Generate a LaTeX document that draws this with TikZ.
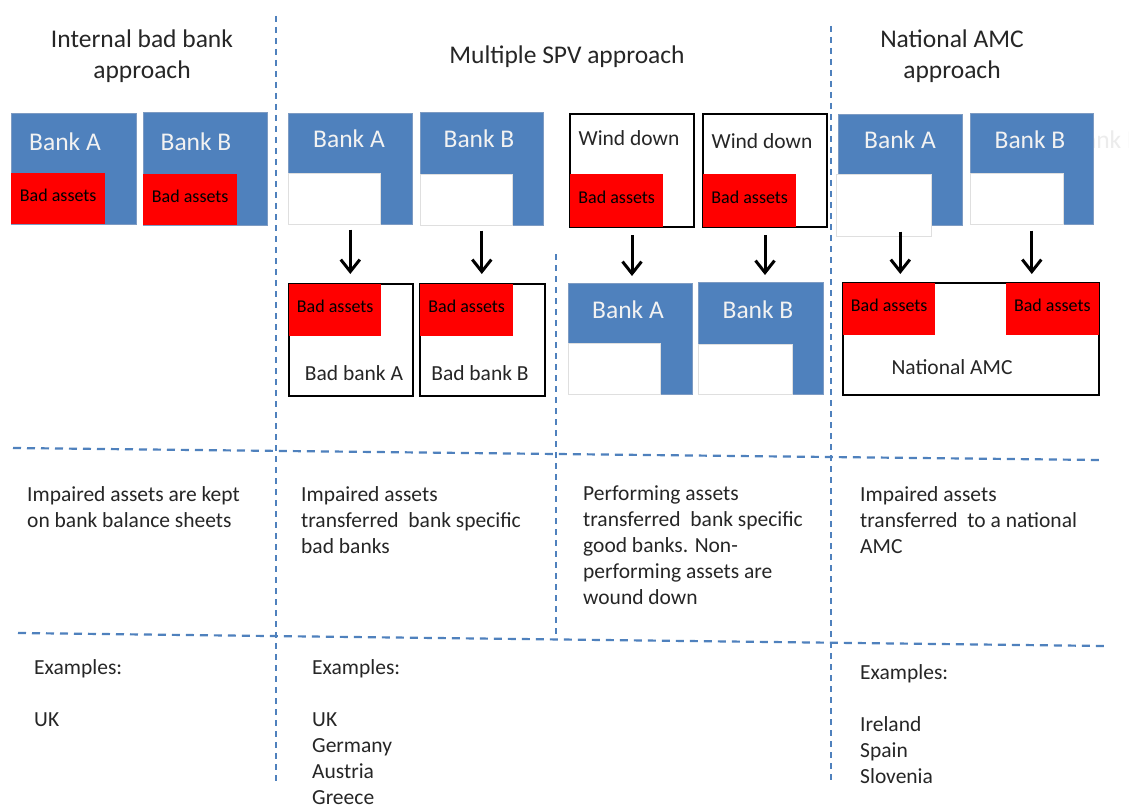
\documentclass[tikz,border=0pt]{standalone}
\usepackage{fontspec}
\setmainfont{Carlito}
\usetikzlibrary{arrows.meta}

\begin{document}
\begin{tikzpicture}[x=1pt,y=-1pt,
  bankbox/.style={draw=blueEdge,line width=0.6pt,fill=bankBlue,inner sep=0pt,anchor=north west},
  holdbox/.style={draw=black,line width=2pt,fill=white,inner sep=0pt,anchor=north west},
  badpatch/.style={fill=badRed,inner sep=0pt,text=black,text depth=7pt,font=\fontsize{18}{21}\selectfont},
  gappatch/.style={fill=white,draw=gray!25,line width=0.5pt,inner sep=0pt},
  banklabel/.style={text=white!95!black,anchor=base,inner sep=0pt,font=\fontsize{25.5}{30}\selectfont},
  boxlabel/.style={text=textGray,anchor=base,inner sep=0pt,font=\fontsize{21.5}{26}\selectfont},
  heading/.style={text=textGray,align=center,anchor=north,inner sep=0pt,font=\fontsize{25.5}{31}\selectfont},
  note/.style={text=textGray,align=left,anchor=north west,inner sep=0pt,font=\fontsize{21.5}{26}\selectfont},
  sepline/.style={draw=sepBlue,line width=2.2pt,dash pattern=on 8pt off 6pt},
  colline/.style={draw=sepBlue,line width=1.8pt,dash pattern=on 6pt off 5pt},
  flow/.style={draw=black,line width=3pt,-{Straight Barb[length=12pt,width=19pt]}}
]
\definecolor{bankBlue}{RGB}{79,129,189}
\definecolor{blueEdge}{RGB}{125,155,195}
\definecolor{badRed}{RGB}{255,0,0}
\definecolor{sepBlue}{RGB}{79,129,189}
\definecolor{textGray}{RGB}{38,38,38}
\path[use as bounding box,fill=white] (0,0) rectangle (1129,805);

% separators
\coordinate (topW) at (13,448);
\coordinate (topE) at (1100,460);
\coordinate (lowW) at (18,633);
\coordinate (lowE) at (1105,646);
\draw[sepline] (topW) -- (topE);
\draw[sepline] (lowW) -- (lowE);
\draw[colline] (276,16) -- (276,781);
\draw[colline] (556,254) -- (556,638);
\draw[colline] (831,26) -- (831,781);

% headings
\node[heading] (headInt) at (142,30) {Internal bad bank\\approach};
\node[heading,anchor=base] (headSPV) at (567,64) {Multiple SPV approach};
\node[heading] (headAMC) at (952,30) {National AMC\\approach};

% internal bad bank
\node[bankbox,minimum width=125pt,minimum height=111pt] (bankA1) at (11,113) {};
\node[badpatch,minimum width=94pt,minimum height=51pt,anchor=south west] (badA1) at (bankA1.south west) {Bad assets};
\node[banklabel] (lblA1) at (65,151) {Bank A};
\node[bankbox,minimum width=124pt,minimum height=113pt] (bankB1) at (143,112) {};
\node[badpatch,minimum width=94pt,minimum height=51pt,anchor=south west] (badB1) at (bankB1.south west) {Bad assets};
\node[banklabel] (lblB1) at (196,151) {Bank B};

% multiple SPV, bad banks
\node[bankbox,minimum width=124pt,minimum height=111pt] (bankA2) at (288,113) {};
\node[gappatch,minimum width=92pt,minimum height=51pt,anchor=south west] (gapA2) at (bankA2.south west) {};
\node[banklabel] (lblA2) at (349,148) {Bank A};
\node[bankbox,minimum width=123pt,minimum height=113pt] (bankB2) at (420,112) {};
\node[gappatch,minimum width=92pt,minimum height=51pt,anchor=south west] (gapB2) at (bankB2.south west) {};
\node[banklabel] (lblB2) at (479,148) {Bank B};
\node[holdbox,minimum width=124pt,minimum height=112pt] (badbankA) at (288,283) {};
\node[badpatch,minimum width=92pt,minimum height=52pt,anchor=north west,xshift=1pt,yshift=-1pt] (badA2) at (badbankA.north west) {Bad assets};
\node[boxlabel] (lblbbA) at (354,380) {Bad bank A};
\node[holdbox,minimum width=125pt,minimum height=112pt] (badbankB) at (419,283) {};
\node[badpatch,minimum width=93pt,minimum height=52pt,anchor=north west,xshift=1pt,yshift=-1pt] (badB2) at (badbankB.north west) {Bad assets};
\node[boxlabel] (lblbbB) at (480,380) {Bad bank B};

% multiple SPV, good banks
\node[holdbox,minimum width=124pt,minimum height=113pt] (windA) at (569,113) {};
\node[badpatch,minimum width=93pt,minimum height=53pt,anchor=south west,xshift=1pt,yshift=1pt] (badA3) at (windA.south west) {Bad assets};
\node[boxlabel] (lblwA) at (629,146) {Wind down};
\node[holdbox,minimum width=124pt,minimum height=113pt] (windB) at (702,113) {};
\node[badpatch,minimum width=93pt,minimum height=53pt,anchor=south west,xshift=1pt,yshift=1pt] (badB3) at (windB.south west) {Bad assets};
\node[boxlabel] (lblwB) at (762,149) {Wind down};
\node[bankbox,minimum width=124pt,minimum height=111pt] (bankA3) at (568,283) {};
\node[gappatch,minimum width=92pt,minimum height=51pt,anchor=south west] (gapA3) at (bankA3.south west) {};
\node[banklabel] (lblA3) at (628,318) {Bank A};
\node[bankbox,minimum width=125pt,minimum height=112pt] (bankB3) at (698,282) {};
\node[gappatch,minimum width=94pt,minimum height=50pt,anchor=south west] (gapB3) at (bankB3.south west) {};
\node[banklabel] (lblB3) at (758,318) {Bank B};

% national AMC
\node[banklabel,anchor=base west,text=gray!15] (ghostB) at (1070,149) {Bank B};
\node[bankbox,minimum width=124pt,minimum height=111pt] (bankA4) at (838,114) {};
\node[gappatch,minimum width=95pt,minimum height=62pt,anchor=north west] (gapA4) at (836,174) {};
\node[banklabel] (lblA4) at (900,149) {Bank A};
\node[bankbox,minimum width=123pt,minimum height=111pt] (bankB4) at (970,113) {};
\node[gappatch,minimum width=93pt,minimum height=51pt,anchor=south west] (gapB4) at (bankB4.south west) {};
\node[banklabel] (lblB4) at (1030,149) {Bank B};
\node[holdbox,minimum width=256pt,minimum height=112pt] (namc) at (842,282) {};
\node[badpatch,minimum width=92pt,minimum height=52pt,anchor=north west,xshift=1pt,yshift=-1pt] (badA4) at (namc.north west) {Bad assets};
\node[badpatch,minimum width=93pt,minimum height=52pt,anchor=north east,xshift=-1pt,yshift=-1pt] (badB4) at (namc.north east) {Bad assets};
\node[boxlabel] (lblnamc) at (952,374) {National AMC};

% transfers
\draw[flow,shorten <=5pt,shorten >=9pt] (bankA2.south) -- (bankA2.south |- badbankA.north);
\draw[flow,shorten <=5pt,shorten >=9pt] (bankB2.south) -- (bankB2.south |- badbankB.north);
\draw[flow,shorten <=7pt,shorten >=7pt] (windA.south) -- (windA.south |- bankA3.north);
\draw[flow,shorten <=7pt,shorten >=7pt] (windB.south) -- (windB.south |- bankB3.north);
\draw[flow,shorten <=6pt,shorten >=8pt] (bankA4.south) -- (bankA4.south |- namc.north);
\draw[flow,shorten <=6pt,shorten >=8pt] (bankB4.south) -- (bankB4.south |- namc.north);

% descriptions
\node[note] (descInt) at (27,486) {Impaired assets are kept\\on bank balance sheets};
\node[note] (descBad) at (301,486) {Impaired assets\\transferred\ \ bank specific\\bad banks};
\node[note] (descGood) at (583,486) {Performing assets\\transferred\ \ bank specific\\good banks. Non-\\performing assets are\\wound down};
\node[note] (descAMC) at (860,486) {Impaired assets\\transferred\ \ to a national\\AMC};

% examples
\node[note] (exInt) at (34,659) {Examples:\\[26pt]UK};
\node[note] (exSPV) at (312,659) {Examples:\\[26pt]UK\\Germany\\Austria\\Greece};
\node[note] (exAMC) at (860,664) {Examples:\\[26pt]Ireland\\Spain\\Slovenia};
\end{tikzpicture}
\end{document}
